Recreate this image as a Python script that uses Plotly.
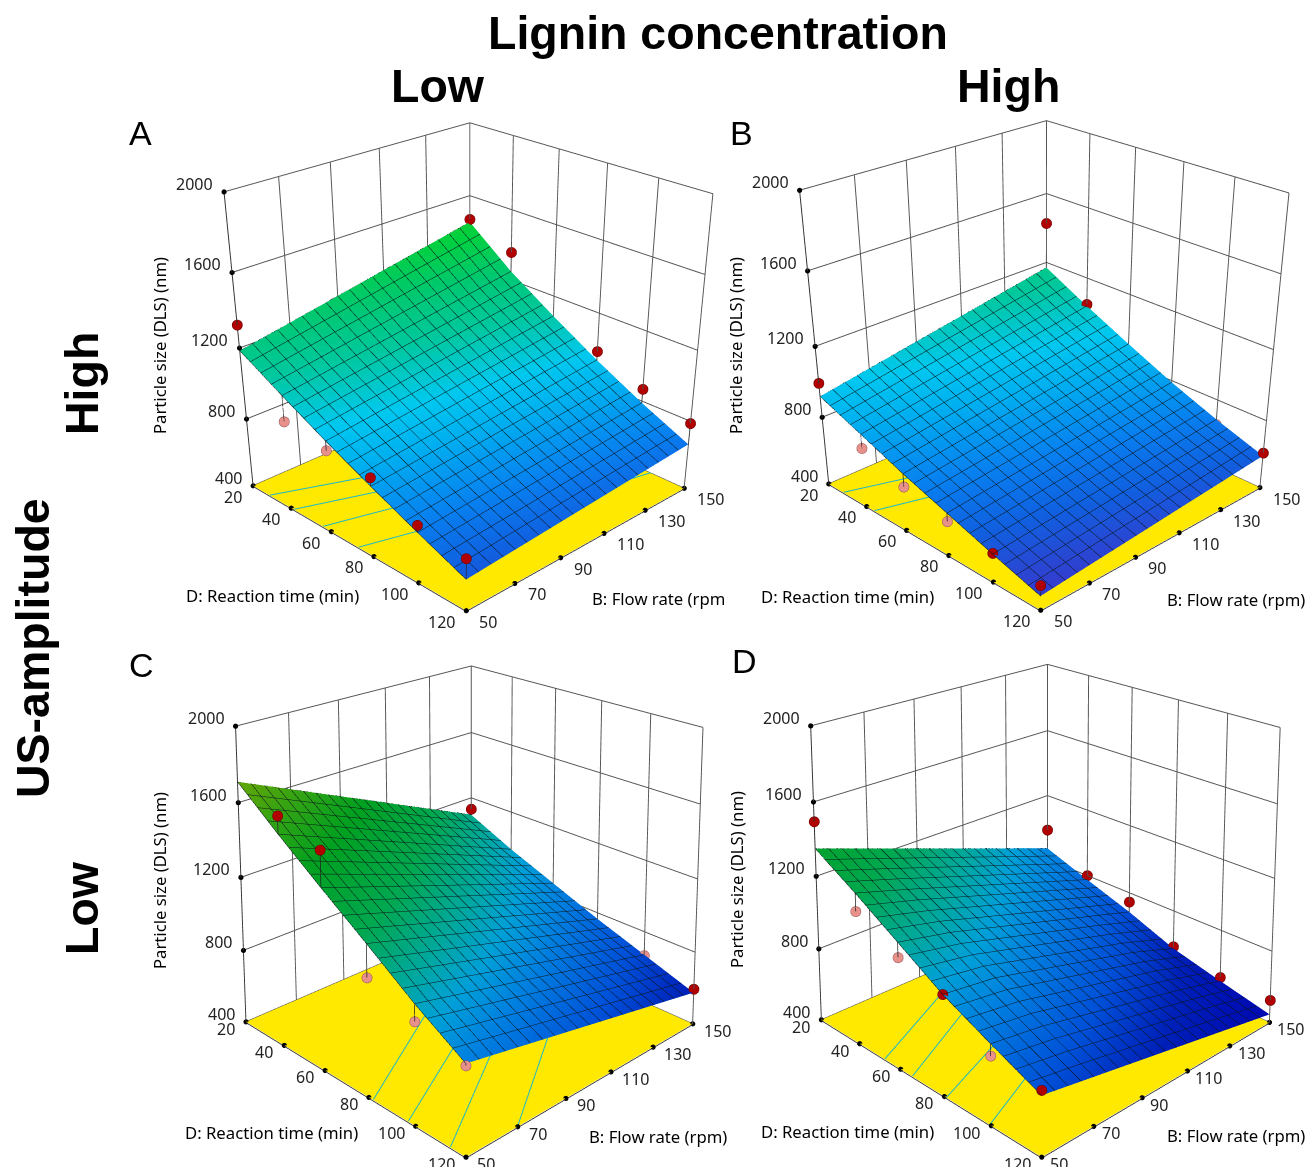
import plotly.graph_objects as go

TIME = [20, 40, 60, 80, 100, 120]
FLOW = [50, 70, 90, 110, 130, 150]
TIME_TICKS = [20, 40, 60, 80, 100, 120]
FLOW_TICKS = [50, 70, 90, 110, 130, 150]
SIZE_TICKS = [400, 800, 1200, 1600, 2000]

SURF_A = [[1185,1050,920,800,685,575],[1238,1090,953,826,706,593],[1291,1130,986,852,727,611],
          [1344,1170,1019,878,748,629],[1397,1210,1052,904,769,647],[1450,1250,1085,930,790,665]]
SURF_B = [[920,825,730,645,560,480],[970,867,766,674,585,503],[1020,909,802,703,610,525],
          [1070,951,838,732,635,548],[1120,993,874,761,660,570],[1170,1035,910,790,685,593]]
SURF_C = [[1710,1525,1350,1180,1005,850],[1587,1415,1254,1097,938,795],[1464,1305,1158,1014,871,740],
          [1341,1195,1062,931,804,685],[1218,1085,966,848,737,630],[1095,975,870,765,670,575]]
SURF_D = [[1350,1215,1070,925,810,700],[1254,1131,1009,888,768,649],[1158,1042,928,816,706,598],
          [1062,953,847,744,644,547],[966,864,766,672,582,496],[870,775,685,580,510,445]]

# design points: reaction time, flow rate, particle size, 1 = above the surface
DOTS_A = [(20,50,1325,1),(40,50,905,0),(60,50,867,0),(80,50,848,1),(100,50,725,1),(120,50,690,1),
          (20,150,1465,1),(40,150,1360,1),(80,150,980,1),(100,150,870,1),(120,150,788,1)]
DOTS_B = [(20,50,995,1),(40,50,745,0),(60,50,655,0),(80,50,597,0),(100,50,565,1),(120,50,540,1),
          (20,150,1430,1),(40,150,1045,1),(100,150,655,0),(120,150,610,1)]
DOTS_C = [(40,50,1620,1),(60,50,1540,1),(80,50,1010,0),(100,50,918,0),(120,50,840,0),
          (20,150,1130,1),(100,150,665,0),(120,150,595,1)]
DOTS_D = [(20,50,1495,1),(40,50,1118,0),(60,50,991,0),(80,50,925,1),(100,50,750,0),(120,50,725,1),
          (20,150,985,1),(40,150,800,1),(60,150,745,1),(80,150,590,1),(100,150,530,1),(120,150,525,1)]

FLOOR_LINES_A = [[(29,50),(46,90)],[(41.5,50),(57,90)],[(56,50),(68,90)],[(73,50),(85,90)],[(101,130),(106,150)]]
FLOOR_LINES_B = [[(28,50),(42,90)],[(44,50),(55,85)]]
FLOOR_LINES_C = [[(82,50),(53,100)],[(97,50),(70,100)],[(114,50),(83,100)],[(120,70),(88,120)]]
FLOOR_LINES_D = [[(52.5,50),(28,100)],[(65.6,50),(43,95)],[(81,50),(63,95)],[(99.5,50),(80,95)]]

BRIGHT = [(400,"#3a2ac8"),(500,"#3040d0"),(600,"#1060e0"),(700,"#0880f0"),(850,"#00b0f0"),(950,"#00c8f0"),
          (1100,"#00c8a0"),(1250,"#00c870"),(1400,"#00d040"),(1800,"#60d000")]
DARK = [(400,"#0000b0"),(580,"#0020b8"),(700,"#0050d8"),(850,"#0080e0"),(950,"#00a0d8"),(1050,"#00a8a0"),
        (1200,"#00a850"),(1400,"#00a020"),(1800,"#80a800")]

W, HT = 1306, 1167
VIEWS = {
    "scene":  dict(eye=(2.6710,-2.6139,1.7011), center=(0.2436,-0.2317,-0.5845), aspect=(0.9336,0.9293,0.9157), roll=-0.0027, box=(0,940), shift=(11,-11)),
    "scene2": dict(eye=(2.6760,-2.5943,1.7146), center=(0.2456,-0.2336,-0.5861), aspect=(0.9332,0.9290,0.9160), roll=-0.0003, box=(784,1306), shift=(11,-11)),
    "scene3": dict(eye=(2.7047,-2.6477,1.6485), center=(-0.3033,0.3016,0.7758), aspect=(0.9256,0.9274,0.9086), roll=-0.0018, box=(0,940), shift=(9,-7)),
    "scene4": dict(eye=(2.6999,-2.6367,1.6698), center=(-0.3052,0.2981,0.7716), aspect=(0.9291,0.9303,0.9058), roll=-0.0013, box=(784,1306), shift=(6,-7)),
}

def scale(stops):
    lo, hi = stops[0][0], stops[-1][0]
    return [[(v-lo)/(hi-lo), c] for v, c in stops], lo, hi

PANELS = [("scene", SURF_A, DOTS_A, FLOOR_LINES_A, BRIGHT),
          ("scene2", SURF_B, DOTS_B, FLOOR_LINES_B, BRIGHT),
          ("scene3", SURF_C, DOTS_C, FLOOR_LINES_C, DARK),
          ("scene4", SURF_D, DOTS_D, FLOOR_LINES_D, DARK)]

fig = go.Figure()
FONT = "Noto Sans"
FLAT = dict(ambient=1, diffuse=0, specular=0, fresnel=0)
def axis(vals, rng):
    return dict(title=dict(text=""), range=rng, tickmode="array", tickvals=vals, showticklabels=False,
                showgrid=True, gridcolor="#555555", gridwidth=2,
                showline=True, linecolor="#333333", linewidth=2, zeroline=False, showbackground=False,
                showspikes=False, ticks="")
def tick_ann(x, y, z, text, anchor, dx, dy):
    return dict(x=x, y=y, z=z, text=text, showarrow=False, xanchor=anchor, yanchor="middle", xshift=dx, yshift=dy,
                font=dict(family=FONT, size=16, color="#222222"))
for name, surf, dots, flines, stops in PANELS:
    cs, lo, hi = scale(stops)
    fig.add_trace(go.Surface(scene=name, x=[20,120], y=[50,150], z=[[400,400],[400,400]],
                             colorscale=[[0,"#ffe900"],[1,"#ffe900"]], showscale=False, hoverinfo="skip", lighting=FLAT))
    for ln in flines:
        fig.add_trace(go.Scatter3d(scene=name, x=[q[0] for q in ln], y=[q[1] for q in ln], z=[403,403],
                                   mode="lines", line=dict(color="#20b8c8", width=2), hoverinfo="skip", showlegend=False))
    lines = dict(show=True, color="#0a1418", width=2, highlight=False)
    fig.add_trace(go.Surface(scene=name, x=TIME, y=FLOW, z=surf, colorscale=cs, cmin=lo, cmax=hi, showscale=False,
                             lighting=FLAT, hoverinfo="skip",
                             contours=dict(x=dict(start=20,end=120,size=5,**lines), y=dict(start=50,end=150,size=5,**lines))))
    sx, sy, sz, rx, ry, rz, kx, ky, kz = [], [], [], [], [], [], [], [], []
    for d, b, v, above in dots:
        s = surf[FLOW.index(b)][TIME.index(d)]
        sx += [d,d,None]; sy += [b,b,None]; sz += [v,s,None]
        if above:
            rx.append(d); ry.append(b); rz.append(v)
        else:
            kx.append(d); ky.append(b); kz.append(v)
    fig.add_trace(go.Scatter3d(scene=name, x=sx, y=sy, z=sz, mode="lines", line=dict(color="#222222", width=1.5), hoverinfo="skip", showlegend=False))
    fig.add_trace(go.Scatter3d(scene=name, x=rx, y=ry, z=rz, mode="markers", marker=dict(size=6,color="#b00000",line=dict(color="#600000",width=1)), hoverinfo="skip", showlegend=False))
    fig.add_trace(go.Scatter3d(scene=name, x=kx, y=ky, z=kz, mode="markers", marker=dict(size=6,color="#e8908a",line=dict(color="#905050",width=1)), hoverinfo="skip", showlegend=False))
    tx = TIME_TICKS + [120]*len(FLOW_TICKS) + [20]*len(SIZE_TICKS)
    ty = [50]*len(TIME_TICKS) + FLOW_TICKS + [50]*len(SIZE_TICKS)
    tz = [400]*(len(TIME_TICKS)+len(FLOW_TICKS)) + SIZE_TICKS
    fig.add_trace(go.Scatter3d(scene=name, x=tx, y=ty, z=tz, mode="markers", marker=dict(size=3,color="#000000"), hoverinfo="skip", showlegend=False))
    vw = VIEWS[name]
    sdx, sdy = vw["shift"]
    sa = [tick_ann(20,50,v,str(v),"right",-9,8) for v in SIZE_TICKS]
    sa += [tick_ann(v,50,400,str(v),"right",-9,sdy) for v in TIME_TICKS]
    sa += [tick_ann(120,v,400,str(v),"left",sdx,sdy) for v in FLOW_TICKS]
    ex,ey,ez = vw["eye"]; cx,cy,cz = vw["center"]; ax,ay,az = vw["aspect"]; x0,x1 = vw["box"]
    fig.update_layout(**{name: dict(domain=dict(x=[x0/W,x1/W], y=[0,1]),
                                    camera=dict(eye=dict(x=ex,y=ey,z=ez),center=dict(x=cx,y=cy,z=cz),up=dict(x=vw["roll"],y=vw["roll"],z=1)),
                                    aspectmode="manual", aspectratio=dict(x=ax,y=ay,z=az), annotations=sa,
                                    xaxis=axis(TIME_TICKS,[20,120]), yaxis=axis(FLOW_TICKS,[50,150]), zaxis=axis(SIZE_TICKS,[395,2000]), bgcolor="rgba(0,0,0,0)")})

AX = 16.7
TEXTS = [("Lignin concentration",718,33,46.5,True,0),("Low",438,86,46.5,True,0),("High",1008,86,46.5,True,0),
         ("High",82,383,46.5,True,-90),("Low",82,908,46.5,True,-90),("US-amplitude",33,648,46.5,True,-90),
         ("A",140,133,34,False,0),("B",742,133,34,False,0),("C",141,665,34,False,0),("D",744,661,34,False,0),
         ("Particle size (DLS) (nm)",160,346,AX,False,-90),("Particle size (DLS) (nm)",736,346,AX,False,-90),
         ("Particle size (DLS) (nm)",159,881,AX,False,-90),("Particle size (DLS) (nm)",736,880,AX,False,-90),
         ("D: Reaction time (min)",272,595,AX,False,0),("D: Reaction time (min)",847,596,AX,False,0),
         ("D: Reaction time (min)",271,1132,AX,False,0),("D: Reaction time (min)",847,1131,AX,False,0),
         ("B: Flow rate (rpm",658,598,AX,False,0),("B: Flow rate (rpm)",1236,599,AX,False,0),
         ("B: Flow rate (rpm)",658,1136,AX,False,0),("B: Flow rate (rpm)",1236,1135,AX,False,0)]
anns = [dict(text=("<b>%s</b>"%t if b else t), x=x/W, y=1-y/HT, xref="paper", yref="paper", showarrow=False,
             font=dict(family="Liberation Sans" if s>20 else FONT, size=s, color="#000000"), textangle=a, xanchor="center", yanchor="middle")
        for t,x,y,s,b,a in TEXTS]
fig.update_layout(width=W, height=HT, margin=dict(l=0,r=0,t=0,b=0), paper_bgcolor="white", showlegend=False, annotations=anns)
fig.write_html("out.html", post_script="document.body.style.margin='0';", config=dict(displayModeBar=False))
